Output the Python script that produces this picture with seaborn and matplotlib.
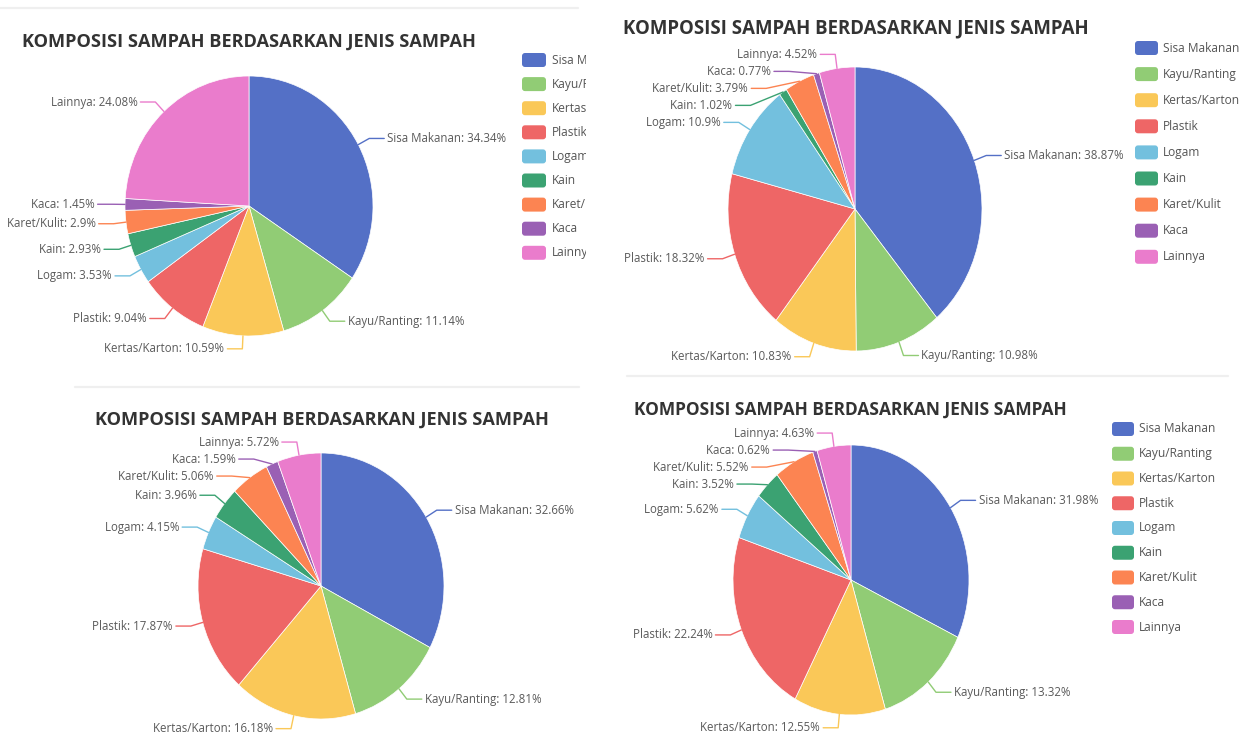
import numpy as np
import matplotlib
matplotlib.use("Agg")
import matplotlib.pyplot as plt
import seaborn as sns
from matplotlib.patches import FancyBboxPatch
from matplotlib.transforms import Bbox

# --- data (percent per waste type) ---
categories = ["Sisa Makanan", "Kayu/Ranting", "Kertas/Karton", "Plastik", "Logam",
              "Kain", "Karet/Kulit", "Kaca", "Lainnya"]
share_1 = [34.34, 11.14, 10.59, 9.04, 3.53, 2.93, 2.9, 1.45, 24.08]
share_2 = [38.87, 10.98, 10.83, 18.32, 10.9, 1.02, 3.79, 0.77, 4.52]
share_3 = [32.66, 12.81, 16.18, 17.87, 4.15, 3.96, 5.06, 1.59, 5.72]
share_4 = [31.98, 13.32, 12.55, 22.24, 5.62, 3.52, 5.52, 0.62, 4.63]
chart_title = "KOMPOSISI SAMPAH BERDASARKAN JENIS SAMPAH"

palette = sns.color_palette(["#5470c6", "#91cc75", "#fac858", "#ee6666", "#73c0de",
                             "#3ba272", "#fc8452", "#9a60b4", "#ea7ccc"])

sns.set_theme(style="white")
plt.rcParams["font.family"] = ["Open Sans", "DejaVu Sans"]

W, H = 1240, 733
fig = plt.figure(figsize=(W / 100, H / 100), dpi=100)
fig.patch.set_facecolor("white")

# full-figure axes in pixel coordinates for titles, legends, separators
bg = fig.add_axes([0, 0, 1, 1], zorder=0)
bg.set_xlim(0, W)
bg.set_ylim(H, 0)
bg.axis("off")

LABEL_COLOR = "#5a5a5a"
TEXT_COLOR = "#333333"


def pie_panel(values, cx, cy, rx, ry, k=1.1, gap_px=17, l2_px=15):
    ax = fig.add_axes([(cx - rx) / W, 1 - (cy + ry) / H, 2 * rx / W, 2 * ry / H], zorder=1)
    wedges, _ = ax.pie(values, colors=palette, startangle=90, counterclock=False, radius=1,
                       wedgeprops=dict(linewidth=0.5, edgecolor="white"))
    ax.set_aspect("auto")
    ax.set_xlim(-1, 1)
    ax.set_ylim(-1, 1)
    ax.axis("off")

    items = []
    for w, name, v, col in zip(wedges, categories, values, palette):
        mid = np.deg2rad((w.theta1 + w.theta2) / 2)
        items.append(dict(c=np.cos(mid), s=np.sin(mid), y=k * np.sin(mid),
                          text=f"{name}: {v:g}%", col=col))

    # push crowded labels apart on each side, top to bottom
    gap = gap_px / ry
    for side in (-1, 1):
        group = sorted([d for d in items if np.sign(d["c"]) == side], key=lambda d: -d["y"])
        prev = None
        for d in group:
            if prev is not None and d["y"] > prev - gap:
                d["y"] = prev - gap
            prev = d["y"]

    for d in items:
        side = -1 if d["c"] < 0 else 1
        y = d["y"]
        xm = side * np.sqrt(max(k ** 2 - y ** 2, 0))
        xe = xm + side * l2_px / rx
        ax.plot([d["c"], xm, xe], [d["s"], y, y], color=d["col"], lw=1, clip_on=False,
                solid_joinstyle="round")
        ax.text(xe + side * 3 / rx, y, d["text"], ha="left" if side > 0 else "right",
                va="center", fontsize=8.3, color=LABEL_COLOR, clip_on=False)


def title_at(x, y, width):
    t = bg.text(x, y, chart_title, ha="left", va="center", fontsize=13,
                fontweight="bold", color=TEXT_COLOR)
    r = fig.canvas.get_renderer()
    t.set_fontsize(13 * width / t.get_window_extent(r).width)


def legend_at(x, y0, step, sw=23, sh=14, pad=5, clip_right=None):
    for i, (name, col) in enumerate(zip(categories, palette)):
        y = y0 + i * step
        bg.add_patch(FancyBboxPatch((x, y - sh / 2), sw, sh,
                                    boxstyle="round,pad=0,rounding_size=3",
                                    fc=col, ec="none"))
        t = bg.text(x + sw + pad, y, name, ha="left", va="center", fontsize=8.6,
                    color="#555555")
        if clip_right is not None:
            # the first screenshot cuts its legend off at the right
            t.set_clip_on(True)
            t.set_clip_box(Bbox([[x - 5, 0], [clip_right, H]]))


# faint separators between screenshot blocks
for xs, y in [((0, 578), 8), ((75, 579), 387), ((627, 1228), 376)]:
    bg.plot(xs, [y, y], color="#efefef", lw=1.6)

# panel 1 (top-left)
title_at(22, 42, 453)
pie_panel(share_1, 249, 206, 124, 130)
legend_at(522, 60, 24.1, sw=24, pad=6, clip_right=586)

# panel 2 (top-right)
title_at(623, 28, 465)
pie_panel(share_2, 855, 209, 127, 142)
legend_at(1135, 48, 26.1)

# panel 3 (bottom-left)
title_at(95, 420, 453)
pie_panel(share_3, 321, 586, 123, 133)

# panel 4 (bottom-right)
title_at(634, 410, 434)
pie_panel(share_4, 851, 580, 118, 135)
legend_at(1112, 429, 24.75, sw=22)

fig.savefig("out.png", dpi=100, facecolor="white")
